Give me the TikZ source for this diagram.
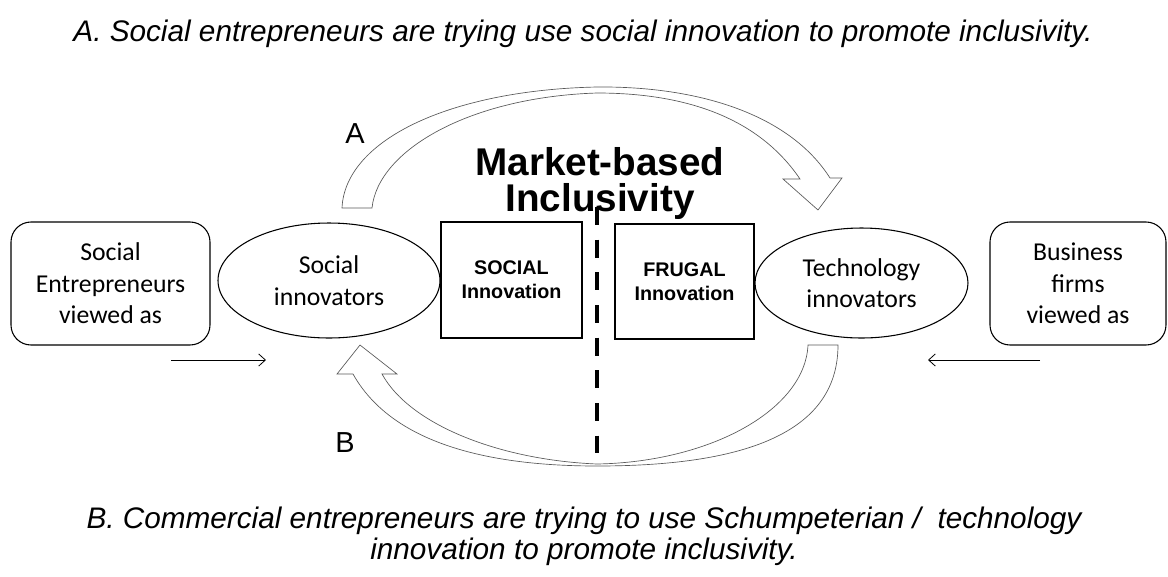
\documentclass[tikz,border=0pt]{standalone}
\usepackage{fontspec}
\setmainfont{Liberation Sans}
\newfontfamily\calibri{Carlito}
\usetikzlibrary{shapes.geometric}
\usetikzlibrary{arrows.meta}

\begin{document}
\begin{tikzpicture}[>={Straight Barb[length=5pt,width=9pt]},x=0.75pt,y=-0.75pt,
                        roundbox/.style={draw,rounded corners=15pt,line width=0.8pt,align=center,
                            font=\calibri\fontsize{19.3}{23.6}\selectfont},
                        oval/.style={draw,ellipse,inner sep=0pt,line width=0.8pt,align=center,
                            font=\calibri\fontsize{19.3}{23.6}\selectfont},
                        innobox/.style={draw,line width=0.8pt,align=center,
                            font=\bfseries\fontsize{14.8}{18}\selectfont},
                        bigtitle/.style={anchor=base,inner sep=0pt,font=\bfseries\fontsize{29}{30}\selectfont},
                        blockarrow/.style={draw=black!65,fill=white,line width=0.5pt}]
                        \useasboundingbox (0,0) rectangle (1168,576);
                        \node[anchor=base,font=\itshape\fontsize{22.3}{26}\selectfont] (capa) at (583,41)
                            {A. Social entrepreneurs are trying use social innovation to promote inclusivity.};
                        \node[roundbox,minimum width=149.25pt,minimum height=92.25pt] (socent) at (110.5,283.5)
                            {Social\\Entrepreneurs\\viewed as};
                        \node[oval,minimum width=166.5pt,minimum height=86.25pt] (socinn) at (329,280.5)
                            {Social\\innovators};
                        \node[innobox,minimum width=105.75pt,minimum height=87pt] (social) at (511.5,280)
                            {SOCIAL\\Innovation};
                        \node[innobox,minimum width=104.25pt,minimum height=86.25pt] (frugal) at (684.5,281.5)
                            {FRUGAL\\Innovation};
                        \node[oval,minimum width=159.75pt,minimum height=82.5pt] (techinn) at (861.5,283)
                            {Technology\\innovators};
                        \node[roundbox,minimum width=132pt,minimum height=92.25pt] (busfirm) at (1078,283.5)
                            {Business\\firms\\viewed as};
                        \node[bigtitle] (mkt) at (600,175) {Market-based};
                        \node[bigtitle] (incl) at (600,211) {Inclusivity};
                        \draw[blockarrow] (342,208) .. controls (345,140) and (450,90) .. (597,87)
                            .. controls (700,86) and (790,115) .. (830,178) -- (842,178) -- (818,210)
                            -- (783,179) -- (800,179) .. controls (760,120) and (690,93) .. (597,93)
                            .. controls (470,97) and (378,150) .. (372,208) -- cycle;
                        \draw[blockarrow] (808,345) -- (838,345) .. controls (838,435) and (740,466) .. (597,466)
                            .. controls (480,466) and (390,440) .. (353,374) -- (337,374) -- (360,345)
                            -- (397,374) -- (382,374) .. controls (410,425) and (500,460) .. (597,464)
                            .. controls (710,462) and (805,410) .. (808,345) -- cycle;
                        \node[anchor=base,font=\fontsize{21.7}{26}\selectfont] (laba) at (355,143.5) {A};
                        \node[anchor=base,font=\fontsize{21.7}{26}\selectfont] (labb) at (345,452.5) {B};
                        \coordinate (dtop) at (597,207);
                        \coordinate (dbot) at (597,453);
                        \draw[line width=3pt,dash pattern=on 13.5pt off 11pt] (dtop) -- (dbot);
                        \coordinate (ltail) at (171,360);
                        \coordinate (lhead) at (266,360);
                        \coordinate (rtail) at (1040,360);
                        \coordinate (rhead) at (928,360);
                        \draw[->,line width=0.6pt] (ltail) -- (lhead);
                        \draw[->,line width=0.6pt] (rtail) -- (rhead);
                        \node[align=center,font=\itshape\fontsize{22.3}{23.25}\selectfont] (capb) at (584,536.5)
                            {B. Commercial entrepreneurs are trying to use Schumpeterian /\ \ technology\\
                             innovation to promote inclusivity.};
                    \end{tikzpicture}
\end{document}
